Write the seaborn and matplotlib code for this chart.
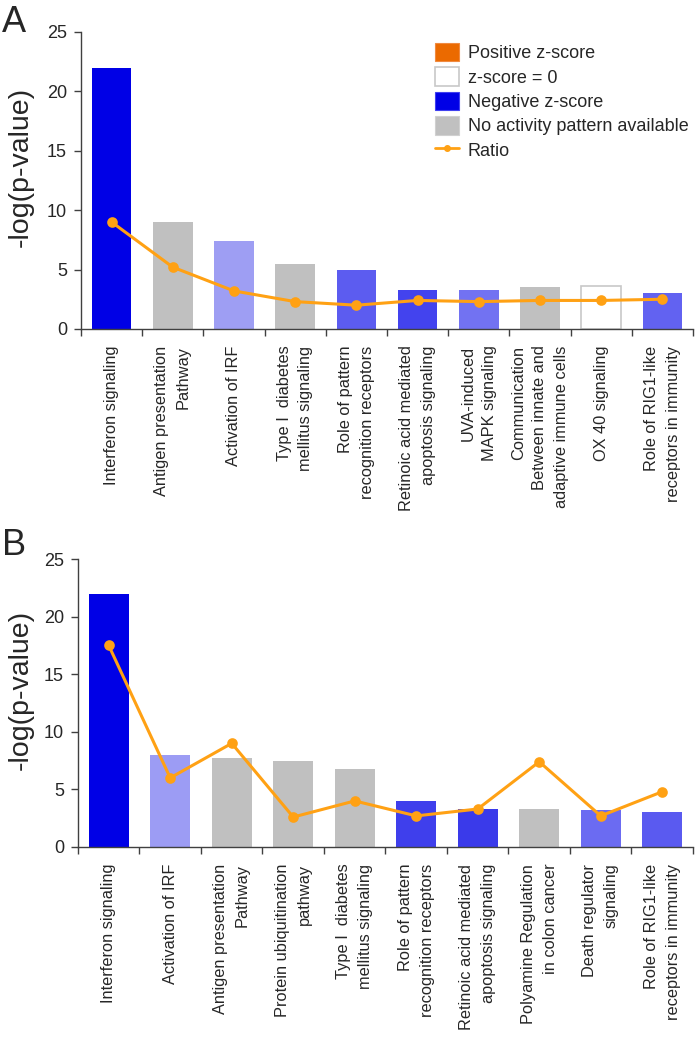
import matplotlib
matplotlib.use("Agg")
import matplotlib.pyplot as plt
from matplotlib.patches import Patch
from matplotlib.lines import Line2D
from matplotlib.ticker import FixedLocator
import seaborn as sns

# ---- panel A data ----
labels_a = [
    "Interferon signaling",
    "Antigen presentation\nPathway",
    "Activation of IRF",
    "Type \u2160  diabetes\nmellitus signaling",
    "Role of pattern\nrecognition receptors",
    "Retinoic acid mediated\napoptosis signaling",
    "UVA-induced\nMAPK signaling",
    "Communication\nBetween innate and\nadaptive immune cells",
    "OX 40 signaling",
    "Role of RIG1-like\nreceptors in immunity",
]
pval_a = [22.0, 9.0, 7.4, 5.5, 5.0, 3.3, 3.3, 3.5, 3.6, 3.0]
ratio_a = [9.0, 5.2, 3.2, 2.3, 2.0, 2.4, 2.3, 2.4, 2.4, 2.5]
colors_a = ["#0000E6", "#C0C0C0", "#9E9EF3", "#C0C0C0", "#5C5CF0",
            "#4343EE", "#7272F2", "#C0C0C0", "#FFFFFF", "#6262F1"]

# ---- panel B data ----
labels_b = [
    "Interferon signaling",
    "Activation of IRF",
    "Antigen presentation\nPathway",
    "Protein ubiquitination\npathway",
    "Type \u2160  diabetes\nmellitus signaling",
    "Role of pattern\nrecognition receptors",
    "Retinoic acid mediated\napoptosis signaling",
    "Polyamine Regulation\nin colon cancer",
    "Death regulator\nsignaling",
    "Role of RIG1-like\nreceptors in immunity",
]
pval_b = [22.0, 8.0, 7.7, 7.5, 6.8, 4.0, 3.3, 3.3, 3.2, 3.0]
ratio_b = [17.5, 6.0, 9.0, 2.6, 4.0, 2.7, 3.3, 7.4, 2.7, 4.8]
colors_b = ["#0000E6", "#9C9CF4", "#C0C0C0", "#C0C0C0", "#C0C0C0",
            "#3F3FEC", "#3A3AEA", "#C0C0C0", "#6B6BF2", "#5A5AF0"]

ORANGE = "#FFA114"

sns.set_style("white")
plt.rcParams["font.family"] = ["Liberation Sans", "DejaVu Sans"]

fig = plt.figure(figsize=(7, 10.54), dpi=100)
ax_a = fig.add_axes([0.1157, 0.6879, 0.8743, 0.2818])
ax_b = fig.add_axes([0.1114, 0.1964, 0.8786, 0.2732])


def draw_panel(ax, labels, pvals, ratios, colors, label_x):
    pal = dict(zip(labels, colors))
    sns.barplot(x=labels, y=pvals, hue=labels, palette=pal, legend=False,
                width=0.65, saturation=1, ax=ax, linewidth=0)
    for patch, c in zip(ax.patches, colors):
        if c.upper() == "#FFFFFF":
            patch.set_edgecolor("#C8C8C8")
            patch.set_linewidth(1.2)
    sns.pointplot(x=labels, y=ratios, color=ORANGE, errorbar=None,
                  markers="o", markersize=6, linewidth=2.2, ax=ax)

    ax.set_xlim(-0.5, len(labels) - 0.5)
    ax.set_ylim(0, 25)
    ax.set_yticks([0, 5, 10, 15, 20, 25])
    ax.tick_params(axis="y", direction="out", length=5, width=1,
                   color="#404040", labelsize=13, pad=5, left=True)
    ax.tick_params(axis="x", which="major", length=0, pad=12)
    ax.xaxis.set_minor_locator(FixedLocator([i - 0.5 for i in range(len(labels) + 1)]))
    ax.tick_params(axis="x", which="minor", direction="out", length=5,
                   width=1, color="#404040", bottom=True)
    ax.set_xticks(range(len(labels)))
    ax.set_xticklabels(labels, rotation=90, fontsize=11.8, ha="center",
                       va="top", multialignment="right", linespacing=1.55)
    ax.set_ylabel("-log(p-value)", fontsize=20.5)
    ax.yaxis.set_label_coords(label_x, 0.545)
    ax.set_xlabel("")
    sns.despine(ax=ax)
    for side in ("left", "bottom"):
        ax.spines[side].set_color("#404040")
        ax.spines[side].set_linewidth(1)


draw_panel(ax_a, labels_a, pval_a, ratio_a, colors_a, -0.077)
draw_panel(ax_b, labels_b, pval_b, ratio_b, colors_b, -0.0715)

handles = [
    Patch(facecolor="#EB6A00", edgecolor="#F08A40", linewidth=0.8),
    Patch(facecolor="white", edgecolor="#C8C8C8", linewidth=1.2),
    Patch(facecolor="#0000E6", edgecolor="#4040F0", linewidth=0.8),
    Patch(facecolor="#C0C0C0", edgecolor="#D0D0D0", linewidth=0.8),
    Line2D([], [], color=ORANGE, lw=2, marker="o", markersize=4),
]
names = ["Positive z-score", "z-score = 0", "Negative z-score",
         "No activity pattern available", "Ratio"]
ax_a.legend(handles, names, loc="upper left", bbox_to_anchor=(0.579, 0.963),
            frameon=False, fontsize=13, handlelength=1.3, handleheight=1.2,
            handletextpad=0.5, labelspacing=0.28, borderpad=0, borderaxespad=0)

fig.text(0.003, 0.9696, "A", fontsize=26, va="baseline", ha="left")
fig.text(0.003, 0.4734, "B", fontsize=26, va="baseline", ha="left")

fig.savefig("out.png", dpi=100)
